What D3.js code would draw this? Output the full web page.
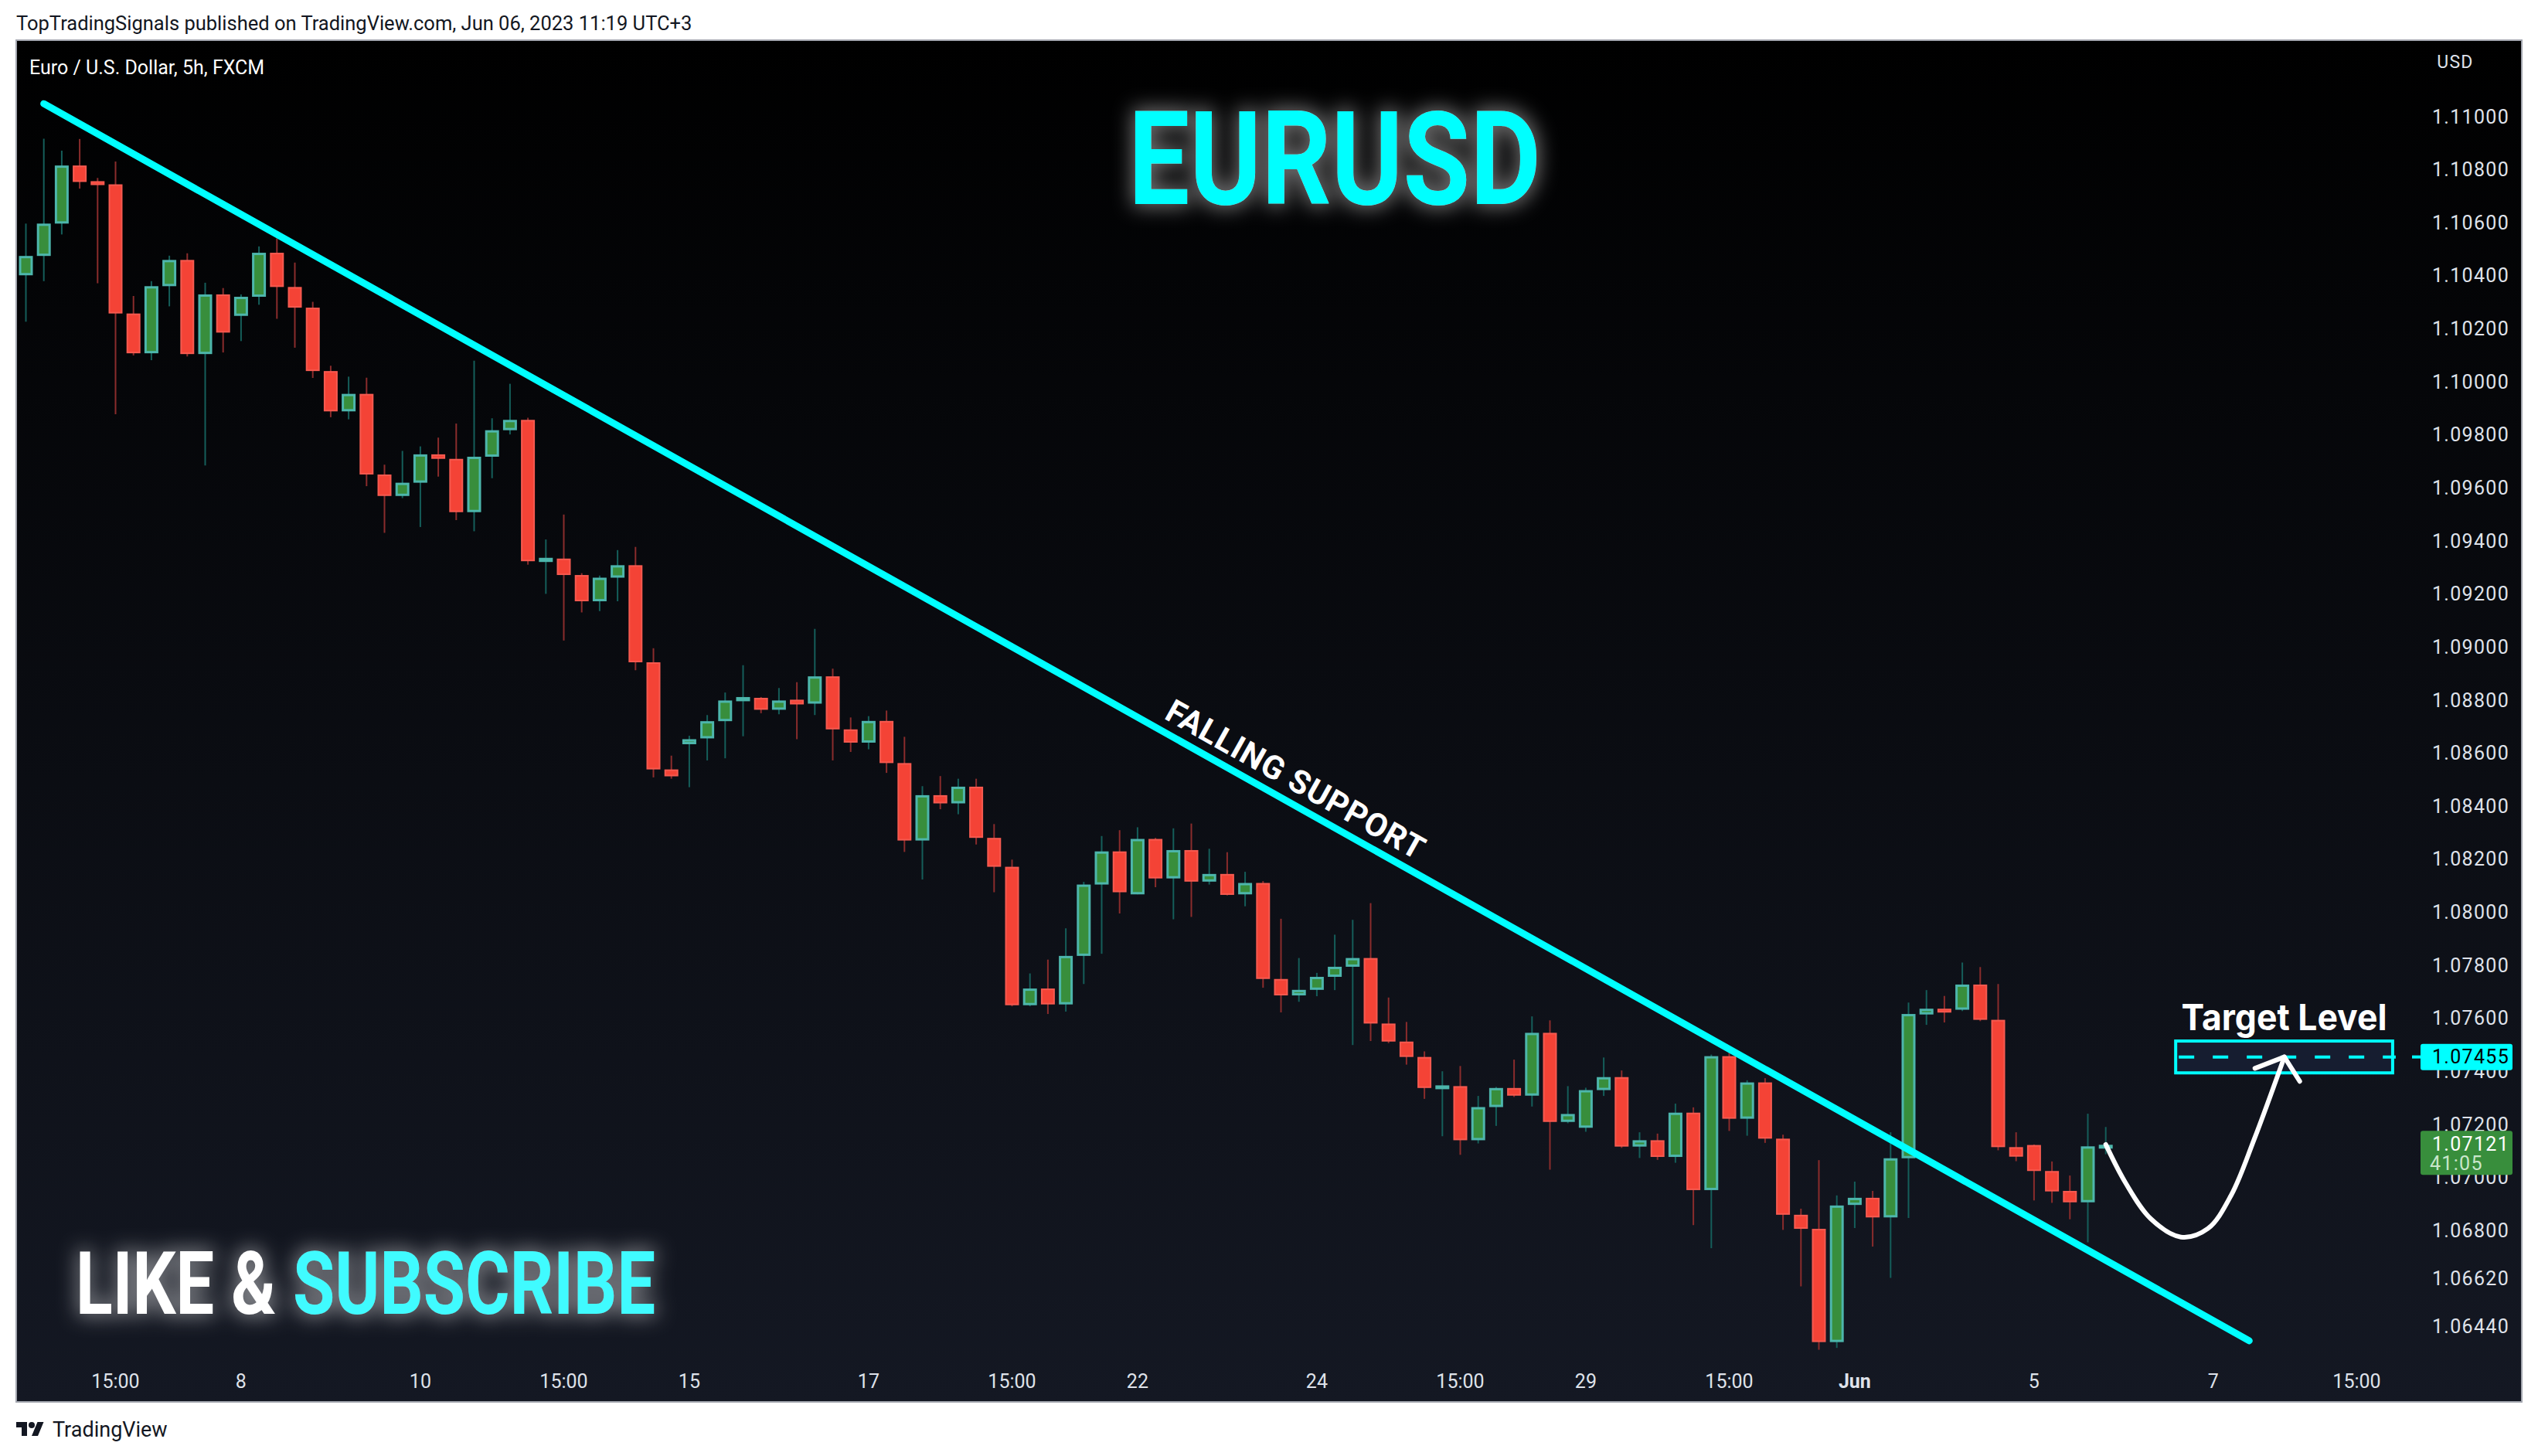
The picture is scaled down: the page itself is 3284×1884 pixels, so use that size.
<!DOCTYPE html>
<html><head><meta charset="utf-8">
<script src="https://cdn.jsdelivr.net/npm/d3@7"></script>
<style>html,body{margin:0;padding:0;background:#fff;} svg{display:block;}</style>
</head><body>
<script>
// ---- DATA ----
const opens  = [1.10402,1.10475,1.10597,1.10816,1.10754,1.10745,1.10258,1.10108,1.10361,1.10460,
1.10105,1.10330,1.10249,1.10321,1.10487,1.10358,1.10280,1.10041,1.09889,1.09955,
1.09651,1.09570,1.09620,1.09727,1.09710,1.09509,1.09718,1.09818,1.09857,1.09324,
1.09334,1.09272,1.09173,1.09262,1.09309,1.08943,1.08539,1.08634,1.08656,1.08721,
1.08799,1.08809,1.08764,1.08799,1.08787,1.08890,1.08690,1.08640,1.08722,1.08563,
1.08271,1.08442,1.08411,1.08474,1.08281,1.08172,1.07650,1.07713,1.07653,1.07836,
1.08105,1.08230,1.08068,1.08277,1.08128,1.08235,1.08116,1.08145,1.08068,1.08111,
1.07749,1.07687,1.07708,1.07757,1.07795,1.07828,1.07581,1.07513,1.07455,1.07338,
1.07345,1.07141,1.07266,1.07338,1.07309,1.07546,1.07210,1.07188,1.07330,1.07379,
1.07117,1.07141,1.07078,1.07245,1.06953,1.07458,1.07222,1.07359,1.07147,1.06860,
1.06807,1.06380,1.06897,1.06924,1.06850,1.07073,1.07618,1.07634,1.07633,1.07728,
1.07595,1.07115,1.07123,1.07025,1.06950,1.06907,1.07118];
const highs  = [1.10597,1.10917,1.10872,1.10916,1.10769,1.10831,1.10324,1.10380,1.10476,1.10485,
1.10374,1.10354,1.10330,1.10511,1.10541,1.10450,1.10302,1.10061,1.10020,1.10016,
1.09688,1.09740,1.09757,1.09790,1.09843,1.10080,1.09863,1.09993,1.09865,1.09406,
1.09500,1.09279,1.09270,1.09366,1.09378,1.08996,1.08591,1.08666,1.08744,1.08829,
1.08932,1.08812,1.08846,1.08868,1.09069,1.08919,1.08735,1.08740,1.08761,1.08662,
1.08476,1.08514,1.08504,1.08504,1.08333,1.08199,1.07770,1.07822,1.07940,1.08115,
1.08288,1.08310,1.08321,1.08281,1.08317,1.08335,1.08240,1.08227,1.08153,1.08118,
1.07976,1.07828,1.07772,1.07916,1.07972,1.08035,1.07679,1.07587,1.07476,1.07401,
1.07421,1.07308,1.07342,1.07445,1.07608,1.07593,1.07345,1.07339,1.07453,1.07404,
1.07171,1.07166,1.07279,1.07265,1.07464,1.07486,1.07367,1.07375,1.07162,1.06883,
1.07066,1.06933,1.06985,1.06950,1.07171,1.07660,1.07707,1.07685,1.07811,1.07794,
1.07730,1.07171,1.07125,1.07061,1.07008,1.07241,1.07191];
const lows   = [1.10227,1.10380,1.10556,1.10729,1.10372,1.09878,1.10100,1.10082,1.10285,1.10096,
1.09685,1.10111,1.10154,1.10291,1.10238,1.10129,1.10015,1.09867,1.09859,1.09607,
1.09431,1.09562,1.09453,1.09643,1.09479,1.09437,1.09637,1.09802,1.09311,1.09201,
1.09025,1.09131,1.09136,1.09173,1.08913,1.08509,1.08504,1.08472,1.08573,1.08581,
1.08664,1.08751,1.08747,1.08653,1.08744,1.08573,1.08605,1.08615,1.08526,1.08228,
1.08124,1.08389,1.08370,1.08256,1.08076,1.07646,1.07646,1.07617,1.07626,1.07730,
1.07844,1.07996,1.08068,1.08095,1.07974,1.07983,1.08105,1.08064,1.08023,1.07716,
1.07623,1.07663,1.07684,1.07707,1.07500,1.07515,1.07507,1.07426,1.07297,1.07156,
1.07086,1.07129,1.07195,1.07304,1.07268,1.07030,1.07205,1.07173,1.07308,1.07112,
1.07074,1.07067,1.07056,1.06821,1.06734,1.07176,1.07158,1.07131,1.06803,1.06590,
1.06351,1.06358,1.06810,1.06740,1.06622,1.06848,1.07576,1.07585,1.07628,1.07590,
1.07103,1.07062,1.06914,1.06905,1.06843,1.06756,1.07088];
const closes = [1.10475,1.10597,1.10816,1.10754,1.10745,1.10258,1.10108,1.10361,1.10460,1.10105,
1.10330,1.10186,1.10321,1.10487,1.10358,1.10280,1.10041,1.09889,1.09955,1.09651,
1.09570,1.09620,1.09727,1.09710,1.09509,1.09718,1.09818,1.09857,1.09324,1.09334,
1.09272,1.09173,1.09262,1.09309,1.08943,1.08539,1.08513,1.08653,1.08721,1.08799,
1.08809,1.08764,1.08799,1.08787,1.08890,1.08690,1.08640,1.08722,1.08563,1.08271,
1.08442,1.08411,1.08474,1.08281,1.08172,1.07650,1.07713,1.07653,1.07836,1.08105,
1.08230,1.08076,1.08277,1.08128,1.08235,1.08116,1.08145,1.08066,1.08111,1.07749,
1.07687,1.07708,1.07757,1.07795,1.07828,1.07581,1.07513,1.07455,1.07338,1.07345,
1.07141,1.07266,1.07338,1.07309,1.07546,1.07210,1.07240,1.07330,1.07379,1.07117,
1.07141,1.07078,1.07245,1.06953,1.07458,1.07222,1.07359,1.07147,1.06860,1.06807,
1.06380,1.06895,1.06924,1.06850,1.07073,1.07617,1.07634,1.07632,1.07728,1.07595,
1.07115,1.07079,1.07025,1.06948,1.06907,1.07118,1.07121];

const priceTicks = [1.11000,1.10800,1.10600,1.10400,1.10200,1.10000,1.09800,1.09600,1.09400,1.09200,
1.09000,1.08800,1.08600,1.08400,1.08200,1.08000,1.07800,1.07600,1.07400,1.07200,1.07000,1.06800,1.06620,1.06440];
const timeTickBars   = [6,13,23,31,38,48,56,63,73,81,88,96,103,113,123,131];
const timeTickLabels = ["15:00","8","10","15:00","15","17","15:00","22","24","15:00","29","15:00","Jun","5","7","15:00"];
const trendLine = [[2,1.11049],[125,1.06385]];
const targetPrice = 1.07455;
const targetBox = {bar0:120.9, bar1:133.0, p0:1.07395, p1:1.07515};
const lastPrice = 1.07121;
const countdown = "41:05";
const arrowCurve = [[117,1.07125],[118.09,1.06982],[119.51,1.06845],[121.19,1.06776],[122.7,1.06808],[123.99,1.06933],[125.28,1.07145],[126.96,1.07455]];
const arrowHead = [[125.32,1.07412],[126.96,1.07455],[127.82,1.07363]];

// ---- LAYOUT ----
const W=3284,H=1884;
const frame={x:21,y:52,w:3242,h:1762};
const plot={x0:21,x1:3121,y0:52,y1:1758};
const x=d3.scaleLinear().domain([1,134]).range([33.5,33.5+133*23.2]);
const y=d3.scaleLinear().domain([1.0644,1.11]).range([1716,151]);

const svg=d3.select("body").append("svg").attr("width",W).attr("height",H);
const defs=svg.append("defs");
const g1=defs.append("linearGradient").attr("id","bg").attr("x1",0).attr("y1",0).attr("x2",0).attr("y2",1);
g1.append("stop").attr("offset","0%").attr("stop-color","#000000");
g1.append("stop").attr("offset","100%").attr("stop-color","#141823");
defs.append("clipPath").attr("id","clip").append("rect").attr("x",plot.x0).attr("y",plot.y0).attr("width",plot.x1-plot.x0).attr("height",plot.y1-plot.y0);
function glow(id,std,op){
  const f=defs.append("filter").attr("id",id).attr("x","-30%").attr("y","-80%").attr("width","160%").attr("height","260%");
  f.append("feMorphology").attr("in","SourceAlpha").attr("operator","dilate").attr("radius",3).attr("result","d");
  f.append("feGaussianBlur").attr("in","d").attr("stdDeviation",std).attr("result","b");
  f.append("feFlood").attr("flood-color","#ffffff").attr("flood-opacity",op);
  f.append("feComposite").attr("in2","b").attr("operator","in").attr("result","gl");
  const m=f.append("feMerge"); m.append("feMergeNode").attr("in","gl"); m.append("feMergeNode").attr("in","SourceGraphic");
}
glow("glow",13,0.45);

svg.append("rect").attr("width",W).attr("height",H).attr("fill","#ffffff");
svg.append("text").attr("x",21).attr("y",39).attr("font-family","Roboto, sans-serif").attr("font-size",25.5).attr("fill","#131722")
  .text("TopTradingSignals published on TradingView.com, Jun 06, 2023 11:19 UTC+3");
svg.append("rect").attr("x",frame.x).attr("y",frame.y).attr("width",frame.w).attr("height",frame.h)
  .attr("fill","url(#bg)").attr("stroke","#a3a6af").attr("stroke-width",2);

const P=svg.append("g").attr("clip-path","url(#clip)");
// candles
const data=opens.map((o,i)=>({i:i+1,o,h:highs[i],l:lows[i],c:closes[i]}));
const bw=18;
const cg=P.append("g");
data.forEach(d=>{
  const up=d.c>=d.o;
  const cx=x(d.i);
  cg.append("line").attr("x1",cx).attr("x2",cx).attr("y1",y(d.h)).attr("y2",y(d.l))
    .attr("stroke",up?"#155e5a":"#8a2c2c").attr("stroke-width",2);
  const yt=y(Math.max(d.o,d.c)), yb=y(Math.min(d.o,d.c));
  const hgt=Math.max(3,yb-yt);
  if(up){
    cg.append("rect").attr("x",cx-bw/2+1.5).attr("y",yt+1.5-(hgt<6?1:0)).attr("width",bw-3).attr("height",Math.max(1,hgt-3+(hgt<6?2:0)))
      .attr("fill","#388e3c").attr("stroke","#4db6ac").attr("stroke-width",3);
  } else {
    cg.append("rect").attr("x",cx-bw/2+1).attr("y",yt+1-(hgt<5?1:0)).attr("width",bw-2).attr("height",Math.max(1,hgt-2+(hgt<5?2:0)))
      .attr("fill","#f44336").attr("stroke","#f65a50").attr("stroke-width",2);
  }
});

// trend line
P.append("line").attr("x1",x(trendLine[0][0])).attr("y1",y(trendLine[0][1]))
  .attr("x2",x(trendLine[1][0])).attr("y2",y(trendLine[1][1]))
  .attr("stroke","#00ffff").attr("stroke-width",9).attr("stroke-linecap","round");

// Falling support text
{
  const X0=x(trendLine[0][0]),Y0=y(trendLine[0][1]),X1=x(trendLine[1][0]),Y1=y(trendLine[1][1]);
  const ang=Math.atan2(Y1-Y0,X1-X0)*180/Math.PI;
  const b=71.2; const t=(b-trendLine[0][0])/(trendLine[1][0]-trendLine[0][0]);
  const pr=trendLine[0][1]+t*(trendLine[1][1]-trendLine[0][1]);
  P.append("text").attr("transform",`translate(${x(b)},${y(pr)}) rotate(${ang})`)
    .attr("y",-15).attr("text-anchor","middle").attr("font-family","Roboto, sans-serif").attr("font-weight",700)
    .attr("font-size",42).attr("letter-spacing",1).attr("fill","#ffffff").text("FALLING SUPPORT");
}

// target box
P.append("rect").attr("x",x(targetBox.bar0)).attr("y",y(targetBox.p1)).attr("width",x(targetBox.bar1)-x(targetBox.bar0))
  .attr("height",y(targetBox.p0)-y(targetBox.p1)).attr("fill","#161d30").attr("stroke","#00ffff").attr("stroke-width",4);
P.append("line").attr("x1",x(targetBox.bar0)+4).attr("x2",x(targetBox.bar1)+4).attr("y1",y(targetPrice)).attr("y2",y(targetPrice))
  .attr("stroke","#00ffff").attr("stroke-width",4).attr("stroke-dasharray","20 24");
P.append("text").attr("x",(x(targetBox.bar0)+x(targetBox.bar1))/2).attr("y",y(targetBox.p1)-14).attr("text-anchor","middle")
  .attr("font-family","Inter, Roboto, sans-serif").attr("font-weight",700).attr("font-size",47)
  .attr("textLength",266).attr("lengthAdjust","spacingAndGlyphs").attr("fill","#ffffff").text("Target Level");

// arrow
const ln=d3.line().x(d=>x(d[0])).y(d=>y(d[1])).curve(d3.curveCatmullRom.alpha(0.5));
P.append("path").attr("d",ln(arrowCurve)).attr("fill","none").attr("stroke","#ffffff").attr("stroke-width",6).attr("stroke-linecap","round");
P.append("path").attr("d",d3.line().x(d=>x(d[0])).y(d=>y(d[1]))(arrowHead)).attr("fill","none").attr("stroke","#ffffff")
  .attr("stroke-width",6).attr("stroke-linecap","round").attr("stroke-linejoin","round");

// titles
svg.append("text").attr("x",1727).attr("y",264).attr("text-anchor","middle").attr("font-family","Roboto, sans-serif")
  .attr("font-weight",700).attr("font-size",168).attr("textLength",534).attr("lengthAdjust","spacingAndGlyphs")
  .attr("fill","#00ffff").attr("filter","url(#glow)").text("EURUSD");
const lsT=svg.append("text").attr("x",98).attr("y",1700).attr("font-family","Roboto, sans-serif").attr("font-weight",700).attr("font-size",114)
  .attr("textLength",750).attr("lengthAdjust","spacingAndGlyphs").attr("filter","url(#glow)");
lsT.append("tspan").attr("fill","#ffffff").text("LIKE & ");
lsT.append("tspan").attr("fill","#3ffbff").text("SUBSCRIBE");

svg.append("text").attr("x",38).attr("y",96).attr("font-family","Roboto, sans-serif").attr("font-size",25).attr("fill","#ffffff")
  .text("Euro / U.S. Dollar, 5h, FXCM");

// price axis
const ax=svg.append("g").attr("font-family","Roboto, sans-serif").attr("font-size",25).attr("fill","#dfe2ea").attr("letter-spacing",1.3);
ax.append("text").attr("x",3177).attr("y",80).attr("text-anchor","middle").attr("dominant-baseline","central").attr("font-size",23).text("USD");
ax.selectAll("text.pt").data(priceTicks).enter().append("text").attr("class","pt").attr("x",3247).attr("y",d=>y(d))
  .attr("text-anchor","end").attr("dominant-baseline","central").text(d=>d.toFixed(5));
// target label
svg.append("line").attr("x1",3121).attr("x2",3133).attr("y1",y(targetPrice)).attr("y2",y(targetPrice)).attr("stroke","#00ffff").attr("stroke-width",4);
svg.append("rect").attr("x",3132).attr("y",y(targetPrice)-17).attr("width",119).attr("height",34).attr("rx",3).attr("fill","#00ffff");
svg.append("text").attr("x",3247).attr("y",y(targetPrice)).attr("text-anchor","end").attr("dominant-baseline","central")
  .attr("font-family","Roboto, sans-serif").attr("font-size",25).attr("letter-spacing",1.3).attr("fill","#000000").text(targetPrice.toFixed(5));
// last price label
const ly=y(lastPrice);
svg.append("rect").attr("x",3132).attr("y",ly-19).attr("width",119).attr("height",57).attr("rx",3).attr("fill","#388e3c");
svg.append("text").attr("x",3247).attr("y",ly-2).attr("text-anchor","end").attr("dominant-baseline","central")
  .attr("font-family","Roboto, sans-serif").attr("font-size",25).attr("letter-spacing",1.3).attr("fill","#ffffff").text(lastPrice.toFixed(5));
svg.append("text").attr("x",3144).attr("y",ly+23).attr("dominant-baseline","central")
  .attr("font-family","Roboto, sans-serif").attr("font-size",25).attr("letter-spacing",1.3).attr("fill","#c9e6cb").text(countdown);

// time axis
svg.append("g").selectAll("text").data(timeTickBars).enter().append("text")
  .attr("x",d=>x(d)).attr("y",1787).attr("text-anchor","middle").attr("dominant-baseline","central")
  .attr("font-family","Roboto, sans-serif").attr("font-size",25).attr("fill","#dfe2ea")
  .attr("font-weight",(d,i)=>timeTickLabels[i]==="Jun"?700:400).text((d,i)=>timeTickLabels[i]);

// footer logo
const lg=svg.append("g").attr("transform","translate(21,1836) scale(1.0)").attr("fill","#131722");
lg.append("path").attr("d","M14 22H7V11H0V4h14v18zM28 22h-8l7.5-18h8L28 22z");
lg.append("circle").attr("cx",20).attr("cy",8).attr("r",4);
svg.append("text").attr("x",68).attr("y",1859).attr("font-family","Roboto, sans-serif").attr("font-size",27).attr("fill","#131722").text("TradingView");
</script>
</body></html>
